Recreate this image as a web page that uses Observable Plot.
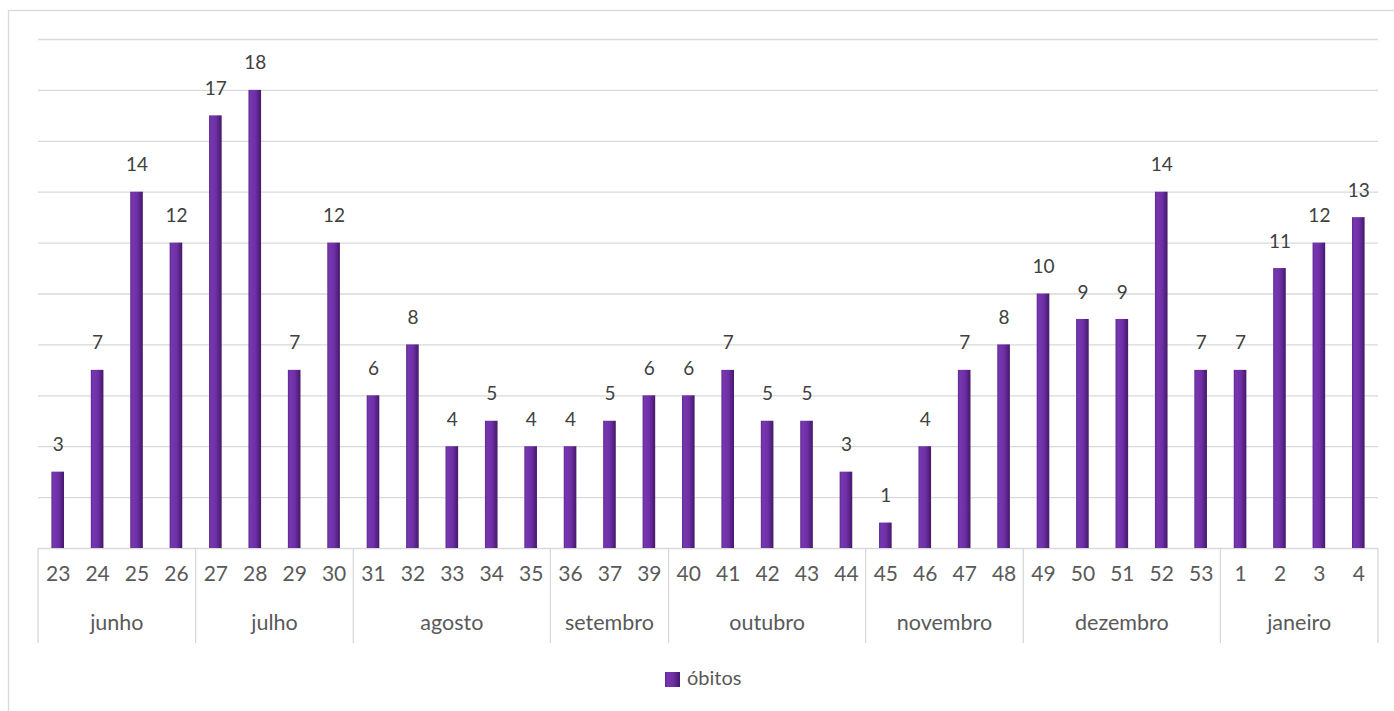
<!DOCTYPE html>
<html><head><meta charset="utf-8">
<script src="https://cdn.jsdelivr.net/npm/d3@7"></script>
<script src="https://cdn.jsdelivr.net/npm/@observablehq/plot@0.6"></script>
<style>body{margin:0;background:#fff} svg{display:block}</style>
</head><body><div id="chart"></div>
<script>
const weeks = ["23","24","25","26","27","28","29","30","31","32","33","34","35","36","37","39","40","41","42","43","44","45","46","47","48","49","50","51","52","53","1","2","3","4"];
const obitos = [3,7,14,12,17,18,7,12,6,8,4,5,4,4,5,6,6,7,5,5,3,1,4,7,8,10,9,9,14,7,7,11,12,13];
const weekMonth = ["junho","junho","junho","junho","julho","julho","julho","julho","agosto","agosto","agosto","agosto","agosto","setembro","setembro","setembro","outubro","outubro","outubro","outubro","outubro","novembro","novembro","novembro","novembro","dezembro","dezembro","dezembro","dezembro","dezembro","janeiro","janeiro","janeiro","janeiro"];
const yTicks = [0,2,4,6,8,10,12,14,16,18,20];
const seriesName = "óbitos";

const data = weeks.map((w, i) => ({week: w, value: obitos[i], month: weekMonth[i]}));
const font = "Lato, 'Open Sans', sans-serif";
const grey = "#595959";

const chart = Plot.plot({
  width: 1394, height: 711,
  marginLeft: 38, marginRight: 16, marginTop: 39, marginBottom: 163,
  style: {fontFamily: font, background: "#fff", overflow: "visible"},
  x: {domain: weeks, paddingInner: 0.68, paddingOuter: 0.34, round: false, axis: null},
  y: {domain: [0, 20], axis: null},
  marks: [
    Plot.ruleY(yTicks, {stroke: "#d9d9d9", strokeWidth: 1.3}),
    Plot.barY(data, {x: "week", y: "value", fill: "url(#barGrad)"}),
    Plot.text(data, {x: "week", y: "value", text: "value", dy: -27, fontSize: 19, fill: "#404040"}),
    Plot.text(data, {x: "week", text: "week", frameAnchor: "bottom", dy: 32, fontSize: 21, fill: grey})
  ]
});

const svg = d3.select(chart);
const defs = svg.insert("defs", ":first-child");
const g = defs.append("linearGradient").attr("id", "barGrad").attr("x1", "0").attr("x2", "1").attr("y1", "0").attr("y2", "0");
[["0%", "#5c2890"], ["15%", "#7636b0"], ["55%", "#6e30a6"], ["100%", "#45186a"]].forEach(([o, c]) => g.append("stop").attr("offset", o).attr("stop-color", c));

const x = chart.scale("x");
const y = chart.scale("y");
const step = x.step, bw = x.bandwidth;
const gap = (step - bw) / 2;
const y0 = y.apply(0);

// month groups
const groups = [];
data.forEach(d => {
  const last = groups[groups.length - 1];
  if (!last || last.month !== d.month) groups.push({month: d.month, first: d.week, last: d.week});
  else last.last = d.week;
});
const bounds = groups.map(gr => ({
  month: gr.month,
  left: x.apply(gr.first) - gap,
  right: x.apply(gr.last) + bw + gap
}));
const layer = svg.append("g");
const edges = [bounds[0].left, ...bounds.map(b => b.right)];
layer.selectAll("line.sep").data(edges).join("line")
  .attr("x1", d => d).attr("x2", d => d).attr("y1", y0).attr("y2", y0 + 95)
  .attr("stroke", "#d9d9d9").attr("stroke-width", 1.3);
layer.selectAll("text.month").data(bounds).join("text")
  .attr("x", d => (d.left + d.right) / 2).attr("y", y0 + 77)
  .attr("text-anchor", "middle").attr("dominant-baseline", "middle")
  .attr("font-size", 21.5).attr("fill", grey).attr("font-family", font)
  .text(d => d.month);

// legend
const legend = svg.append("g");
legend.append("rect").attr("x", 665).attr("y", 672).attr("width", 15).attr("height", 15).attr("fill", "url(#barGrad)");
legend.append("text").attr("x", 687).attr("y", 680).attr("text-anchor", "start").attr("dominant-baseline", "middle")
  .attr("font-size", 20).attr("fill", grey).attr("font-family", font).text(seriesName);

// outer frame
svg.append("rect").attr("x", 8.5).attr("y", 10.5).attr("width", 1392).attr("height", 710)
  .attr("fill", "none").attr("stroke", "#d9d9d9").attr("stroke-width", 1.3);

document.getElementById("chart").append(chart);
</script>
</body></html>
